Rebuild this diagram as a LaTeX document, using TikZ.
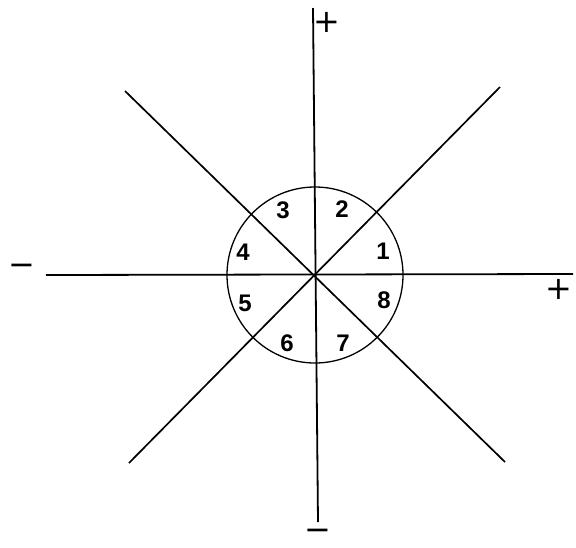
\documentclass[tikz,border=0pt]{standalone}
\usepackage{fontspec}
\newfontfamily\digfont{Liberation Sans}
\newfontfamily\signfont{DejaVu Sans}
\tikzset{
  axis/.style={line width=1.8pt, black},
  diag/.style={line width=1.7pt, black},
  ring/.style={line width=1.3pt, black},
  num/.style={font=\digfont\bfseries\fontsize{24}{24}\selectfont, inner sep=0pt},
  sign/.style={font=\signfont\fontsize{32}{32}\selectfont, inner sep=0pt},
}
\begin{document}
\begin{tikzpicture}[x=1pt,y=-1pt]
\fill[white] (0,0) rectangle (576,547);
\useasboundingbox (0,0) rectangle (576,547);
\coordinate (c) at (315,275);
\coordinate (top) at (313,8);
\coordinate (bot) at (318,522);
\coordinate (lft) at (46,275);
\coordinate (rgt) at (573,274);
\coordinate (ul) at (125,91);
\coordinate (ur) at (500,87);
\coordinate (ll) at (129,463);
\coordinate (lr) at (505,462);
\draw[axis] (top) -- (bot);
\draw[axis] (lft) -- (rgt);
\draw[diag] (ul) -- (lr);
\draw[diag] (ur) -- (ll);
\draw[ring] (c) circle (88);
\node[num] (n1) at (383,251) {1};
\node[num] (n2) at (342,209) {2};
\node[num] (n3) at (283,210) {3};
\node[num] (n4) at (243,252) {4};
\node[num] (n5) at (245,303) {5};
\node[num] (n6) at (287,343) {6};
\node[num] (n7) at (343,343) {7};
\node[num] (n8) at (384,300) {8};
\node[sign] (ptop) at (327,22) {+};
\node[sign] (prgt) at (559,289) {+};
\node[sign] (mlft) at (22,270) {−};
\node[sign] (mbot) at (318,535) {−};
\end{tikzpicture}
\end{document}
